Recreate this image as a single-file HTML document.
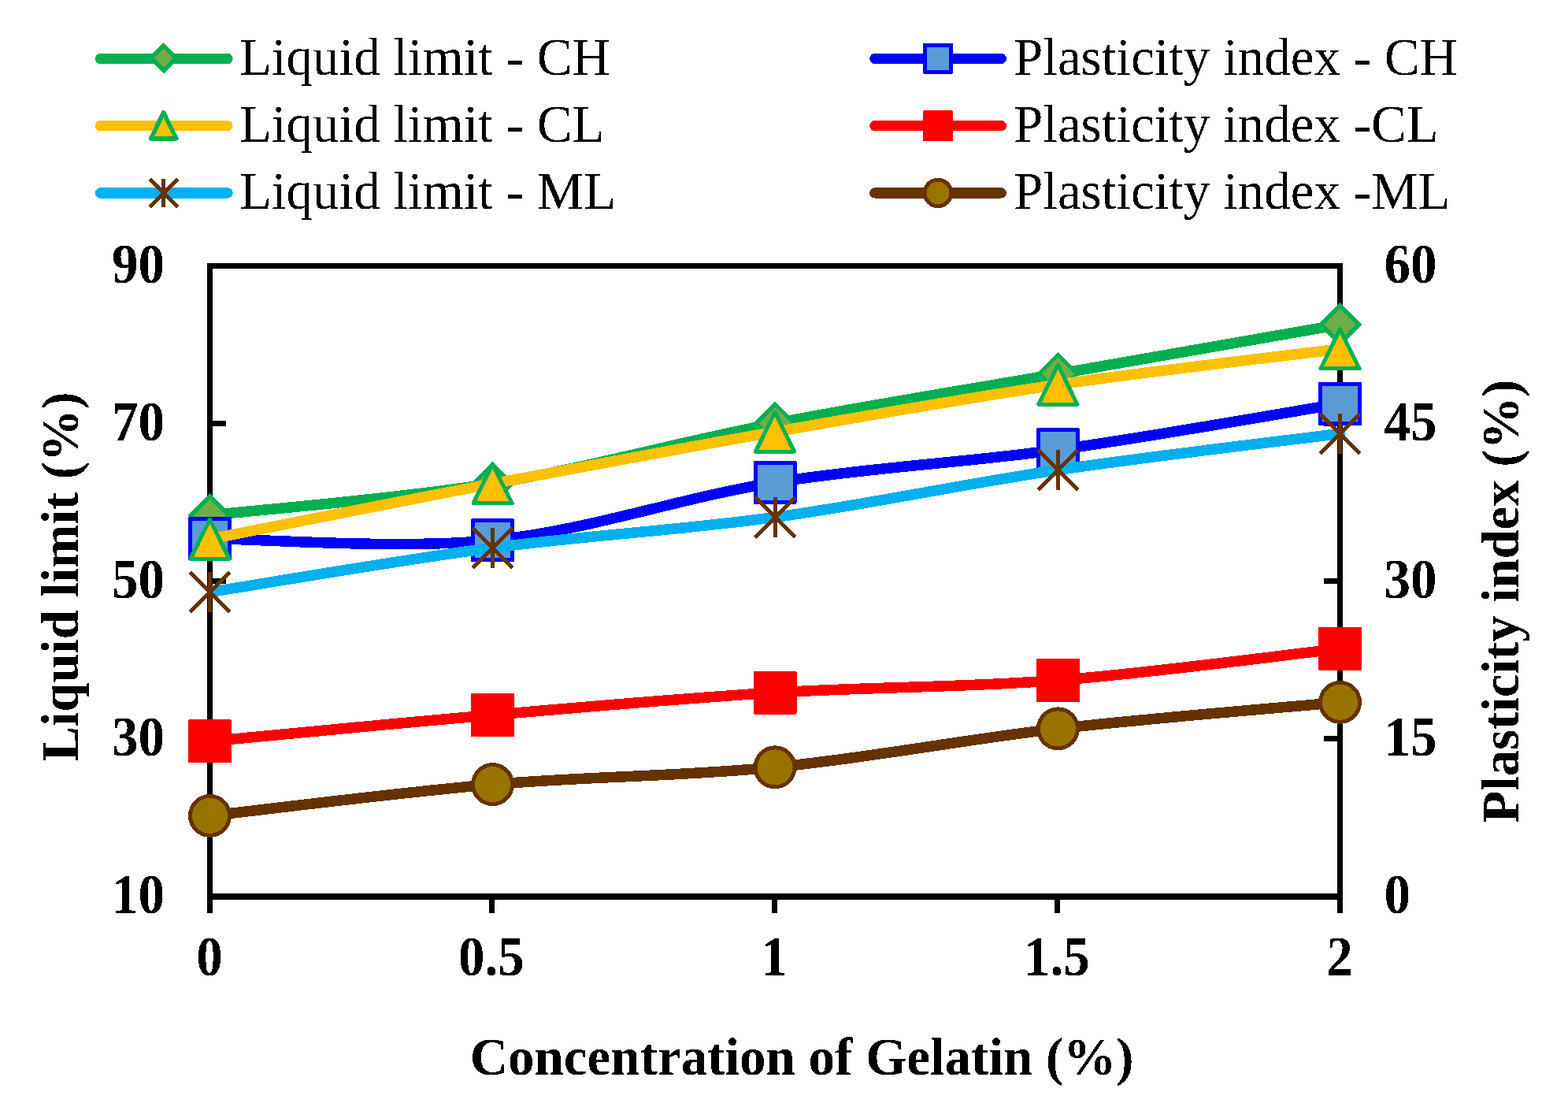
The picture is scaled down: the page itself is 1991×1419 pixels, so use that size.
<!DOCTYPE html>
<html><head><meta charset="utf-8"><title>Liquid limit and plasticity index vs gelatin concentration</title>
<style>
html,body{margin:0;padding:0;background:#fff;}
body{width:1991px;height:1419px;overflow:hidden;}
svg{display:block;}
text{font-family:"Liberation Serif","Times New Roman",serif;font-size:67px;fill:#000;}
</style></head>
<body>
<svg width="1991" height="1419" viewBox="0 0 1991 1419" shape-rendering="crispEdges">
<defs><filter id="bin" x="0" y="0" width="100%" height="100%" filterUnits="userSpaceOnUse"><feComponentTransfer><feFuncA type="discrete" tableValues="0 1"/></feComponentTransfer></filter><clipPath id="pc"><rect x="268" y="300" width="1452" height="900"/></clipPath></defs>
<rect x="0" y="0" width="1991" height="1419" fill="#fff"/>
<rect x="266.5" y="337.5" width="1435.0" height="800.0" fill="none" stroke="#000" stroke-width="7"/>
<line x1="266.5" y1="537.5" x2="287.0" y2="537.5" stroke="#000" stroke-width="7"/>
<line x1="1681.0" y1="537.5" x2="1701.5" y2="537.5" stroke="#000" stroke-width="7"/>
<line x1="266.5" y1="737.5" x2="287.0" y2="737.5" stroke="#000" stroke-width="7"/>
<line x1="1681.0" y1="737.5" x2="1701.5" y2="737.5" stroke="#000" stroke-width="7"/>
<line x1="266.5" y1="937.5" x2="287.0" y2="937.5" stroke="#000" stroke-width="7"/>
<line x1="1681.0" y1="937.5" x2="1701.5" y2="937.5" stroke="#000" stroke-width="7"/>
<line x1="263.0" y1="1138" x2="1705.0" y2="1138" stroke="#000" stroke-width="8"/>
<line x1="266.5" y1="1137.5" x2="266.5" y2="1159.0" stroke="#000" stroke-width="7"/>
<line x1="624.45" y1="1137.5" x2="624.45" y2="1159.0" stroke="#000" stroke-width="7"/>
<line x1="983.5" y1="1137.5" x2="983.5" y2="1159.0" stroke="#000" stroke-width="7"/>
<line x1="1342.45" y1="1137.5" x2="1342.45" y2="1159.0" stroke="#000" stroke-width="7"/>
<line x1="1701.5" y1="1137.5" x2="1701.5" y2="1159.0" stroke="#000" stroke-width="7"/>
<path d="M266.50,654.00 C326.34,647.28 505.96,633.13 625.55,613.70 C745.14,594.27 864.41,560.60 984.05,537.40 C1103.69,514.20 1223.83,495.40 1343.40,474.50 C1462.98,453.60 1641.82,422.42 1701.50,412.00" fill="none" stroke="#00B050" stroke-width="13.5" stroke-linejoin="round" stroke-linecap="round" clip-path="url(#pc)"/>
<polygon points="266.5,626.20 294.30,654 266.5,681.80 238.70,654" fill="#00B050"/><polygon points="266.5,633.60 286.90,654 266.5,674.40 246.10,654" fill="#70AD47"/>
<polygon points="625.55,585.90 653.35,613.7 625.55,641.50 597.75,613.7" fill="#00B050"/><polygon points="625.55,593.30 645.95,613.7 625.55,634.10 605.15,613.7" fill="#70AD47"/>
<polygon points="984.05,509.60 1011.85,537.4 984.05,565.20 956.25,537.4" fill="#00B050"/><polygon points="984.05,517.00 1004.45,537.4 984.05,557.80 963.65,537.4" fill="#70AD47"/>
<polygon points="1343.4,446.70 1371.20,474.5 1343.4,502.30 1315.60,474.5" fill="#00B050"/><polygon points="1343.4,454.10 1363.80,474.5 1343.4,494.90 1323.00,474.5" fill="#70AD47"/>
<polygon points="1701.5,384.20 1729.30,412 1701.5,439.80 1673.70,412" fill="#00B050"/><polygon points="1701.5,391.60 1721.90,412 1701.5,432.40 1681.10,412" fill="#70AD47"/>
<path d="M266.50,683.60 C326.34,683.95 505.96,697.58 625.55,685.70 C745.14,673.82 864.41,631.45 984.05,612.30 C1103.69,593.15 1223.83,587.45 1343.40,570.80 C1462.98,554.15 1641.82,522.13 1701.50,512.40" fill="none" stroke="#0000FF" stroke-width="13.5" stroke-linejoin="round" stroke-linecap="round" clip-path="url(#pc)"/>
<rect x="239.00" y="656.10" width="55.00" height="55.00" fill="#0000FF" rx="1.5"/><rect x="244.00" y="661.10" width="45.00" height="45.00" fill="#5B9BD5"/>
<rect x="598.05" y="658.20" width="55.00" height="55.00" fill="#0000FF" rx="1.5"/><rect x="603.05" y="663.20" width="45.00" height="45.00" fill="#5B9BD5"/>
<rect x="956.55" y="584.80" width="55.00" height="55.00" fill="#0000FF" rx="1.5"/><rect x="961.55" y="589.80" width="45.00" height="45.00" fill="#5B9BD5"/>
<rect x="1315.90" y="543.30" width="55.00" height="55.00" fill="#0000FF" rx="1.5"/><rect x="1320.90" y="548.30" width="45.00" height="45.00" fill="#5B9BD5"/>
<rect x="1674.00" y="484.90" width="55.00" height="55.00" fill="#0000FF" rx="1.5"/><rect x="1679.00" y="489.90" width="45.00" height="45.00" fill="#5B9BD5"/>
<path d="M266.50,684.20 C326.34,672.48 505.96,636.58 625.55,613.90 C745.14,591.22 864.41,569.05 984.05,548.10 C1103.69,527.15 1223.83,505.73 1343.40,488.20 C1462.98,470.67 1641.82,450.45 1701.50,442.90" fill="none" stroke="#FFC000" stroke-width="13.5" stroke-linejoin="round" stroke-linecap="round" clip-path="url(#pc)"/>
<polygon points="266.50,659.20 291.00,709.20 242.00,709.20" fill="#FFC000" stroke="#00B050" stroke-width="5.1" stroke-linejoin="round"/>
<polygon points="625.55,588.90 650.05,638.90 601.05,638.90" fill="#FFC000" stroke="#00B050" stroke-width="5.1" stroke-linejoin="round"/>
<polygon points="984.05,523.10 1008.55,573.10 959.55,573.10" fill="#FFC000" stroke="#00B050" stroke-width="5.1" stroke-linejoin="round"/>
<polygon points="1343.40,463.20 1367.90,513.20 1318.90,513.20" fill="#FFC000" stroke="#00B050" stroke-width="5.1" stroke-linejoin="round"/>
<polygon points="1701.50,417.90 1726.00,467.90 1677.00,467.90" fill="#FFC000" stroke="#00B050" stroke-width="5.1" stroke-linejoin="round"/>
<path d="M266.50,940.80 C326.34,935.23 505.96,917.68 625.55,907.40 C745.14,897.12 864.41,886.43 984.05,879.10 C1103.69,871.77 1223.83,872.70 1343.40,863.40 C1462.98,854.10 1641.82,829.98 1701.50,823.30" fill="none" stroke="#FF0000" stroke-width="13.5" stroke-linejoin="round" stroke-linecap="round" clip-path="url(#pc)"/>
<rect x="239.00" y="913.30" width="55.00" height="55.00" fill="#FF0000" rx="1.5"/>
<rect x="598.05" y="879.90" width="55.00" height="55.00" fill="#FF0000" rx="1.5"/>
<rect x="956.55" y="851.60" width="55.00" height="55.00" fill="#FF0000" rx="1.5"/>
<rect x="1315.90" y="835.90" width="55.00" height="55.00" fill="#FF0000" rx="1.5"/>
<rect x="1674.00" y="795.80" width="55.00" height="55.00" fill="#FF0000" rx="1.5"/>
<path d="M266.50,751.50 C326.34,742.13 505.96,711.13 625.55,695.30 C745.14,679.47 864.41,672.97 984.05,656.50 C1103.69,640.03 1223.83,614.18 1343.40,596.50 C1462.98,578.82 1641.82,558.08 1701.50,550.40" fill="none" stroke="#00B0F0" stroke-width="13.5" stroke-linejoin="round" stroke-linecap="round" clip-path="url(#pc)"/>
<g stroke="#663300" stroke-width="5" stroke-linecap="butt"><line x1="266.5" y1="726.1" x2="266.5" y2="776.9"/><line x1="241.1" y1="726.1" x2="291.9" y2="776.9"/><line x1="291.9" y1="726.1" x2="241.1" y2="776.9"/></g>
<g stroke="#663300" stroke-width="5" stroke-linecap="butt"><line x1="625.55" y1="669.9" x2="625.55" y2="720.6999999999999"/><line x1="600.15" y1="669.9" x2="650.9499999999999" y2="720.6999999999999"/><line x1="650.9499999999999" y1="669.9" x2="600.15" y2="720.6999999999999"/></g>
<g stroke="#663300" stroke-width="5" stroke-linecap="butt"><line x1="984.05" y1="631.1" x2="984.05" y2="681.9"/><line x1="958.65" y1="631.1" x2="1009.4499999999999" y2="681.9"/><line x1="1009.4499999999999" y1="631.1" x2="958.65" y2="681.9"/></g>
<g stroke="#663300" stroke-width="5" stroke-linecap="butt"><line x1="1343.4" y1="571.1" x2="1343.4" y2="621.9"/><line x1="1318.0" y1="571.1" x2="1368.8000000000002" y2="621.9"/><line x1="1368.8000000000002" y1="571.1" x2="1318.0" y2="621.9"/></g>
<g stroke="#663300" stroke-width="5" stroke-linecap="butt"><line x1="1701.5" y1="525.0" x2="1701.5" y2="575.8"/><line x1="1676.1" y1="525.0" x2="1726.9" y2="575.8"/><line x1="1726.9" y1="525.0" x2="1676.1" y2="575.8"/></g>
<path d="M266.50,1035.40 C326.34,1028.77 505.96,1005.87 625.55,995.60 C745.14,985.33 864.41,985.58 984.05,973.80 C1103.69,962.02 1223.83,938.63 1343.40,924.90 C1462.98,911.17 1641.82,896.98 1701.50,891.40" fill="none" stroke="#663300" stroke-width="13.5" stroke-linejoin="round" stroke-linecap="round" clip-path="url(#pc)"/>
<circle cx="266.5" cy="1035.4" r="27.50" fill="#663300"/><circle cx="266.5" cy="1035.4" r="22.50" fill="#997300"/>
<circle cx="625.55" cy="995.6" r="27.50" fill="#663300"/><circle cx="625.55" cy="995.6" r="22.50" fill="#997300"/>
<circle cx="984.05" cy="973.8" r="27.50" fill="#663300"/><circle cx="984.05" cy="973.8" r="22.50" fill="#997300"/>
<circle cx="1343.4" cy="924.9" r="27.50" fill="#663300"/><circle cx="1343.4" cy="924.9" r="22.50" fill="#997300"/>
<circle cx="1701.5" cy="891.4" r="27.50" fill="#663300"/><circle cx="1701.5" cy="891.4" r="22.50" fill="#997300"/>
<line x1="127.4" y1="74.45" x2="289" y2="74.45" stroke="#00B050" stroke-width="13.25" stroke-linecap="round"/>
<polygon points="207.7,53.85 227.60,73.75 207.7,93.65 187.80,73.75" fill="#00B050"/><polygon points="207.7,61.85 219.60,73.75 207.7,85.65 195.80,73.75" fill="#70AD47"/>
<line x1="127.4" y1="159.7" x2="289" y2="159.7" stroke="#FFC000" stroke-width="13.25" stroke-linecap="round"/>
<polygon points="207.70,142.85 223.80,175.85 191.60,175.85" fill="#FFC000" stroke="#00B050" stroke-width="5.5" stroke-linejoin="round"/>
<line x1="127.4" y1="244.9" x2="289" y2="244.9" stroke="#00B0F0" stroke-width="13.25" stroke-linecap="round"/>
<g stroke="#663300" stroke-width="5" stroke-linecap="butt"><line x1="207.7" y1="227.12" x2="207.7" y2="262.68"/><line x1="189.92" y1="227.12" x2="225.48" y2="262.68"/><line x1="225.48" y1="227.12" x2="189.92" y2="262.68"/></g>
<line x1="1110.8" y1="74.45" x2="1271.3" y2="74.45" stroke="#0000FF" stroke-width="13.25" stroke-linecap="round"/>
<rect x="1171.75" y="55.20" width="38.50" height="38.50" fill="#0000FF" rx="1.5"/><rect x="1176.75" y="60.20" width="28.50" height="28.50" fill="#5B9BD5"/>
<line x1="1110.8" y1="159.7" x2="1271.3" y2="159.7" stroke="#FF0000" stroke-width="13.25" stroke-linecap="round"/>
<rect x="1171.75" y="140.45" width="38.50" height="38.50" fill="#FF0000" rx="1.5"/>
<line x1="1110.8" y1="244.9" x2="1271.3" y2="244.9" stroke="#663300" stroke-width="13.25" stroke-linecap="round"/>
<circle cx="1191" cy="244.9" r="19.25" fill="#663300"/><circle cx="1191" cy="244.9" r="14.25" fill="#997300"/>
<g filter="url(#bin)">
<text transform="translate(209,359.0) scale(1,1.07)" text-anchor="end" font-weight="bold" >90</text>
<text transform="translate(209,559.0) scale(1,1.07)" text-anchor="end" font-weight="bold" >70</text>
<text transform="translate(209,759.0) scale(1,1.07)" text-anchor="end" font-weight="bold" >50</text>
<text transform="translate(209,959.0) scale(1,1.07)" text-anchor="end" font-weight="bold" >30</text>
<text transform="translate(209,1159.0) scale(1,1.07)" text-anchor="end" font-weight="bold" >10</text>
<text transform="translate(1757.5,359.0) scale(1,1.07)" text-anchor="start" font-weight="bold" >60</text>
<text transform="translate(1757.5,559.0) scale(1,1.07)" text-anchor="start" font-weight="bold" >45</text>
<text transform="translate(1757.5,759.0) scale(1,1.07)" text-anchor="start" font-weight="bold" >30</text>
<text transform="translate(1757.5,959.0) scale(1,1.07)" text-anchor="start" font-weight="bold" >15</text>
<text transform="translate(1757.5,1159.0) scale(1,1.07)" text-anchor="start" font-weight="bold" >0</text>
<text transform="translate(265.9,1238) scale(1,1.07)" text-anchor="middle" font-weight="bold" >0</text>
<text transform="translate(623.85,1238) scale(1,1.07)" text-anchor="middle" font-weight="bold" >0.5</text>
<text transform="translate(982.9,1238) scale(1,1.07)" text-anchor="middle" font-weight="bold" >1</text>
<text transform="translate(1341.8500000000001,1238) scale(1,1.07)" text-anchor="middle" font-weight="bold" >1.5</text>
<text transform="translate(1700.9,1238) scale(1,1.07)" text-anchor="middle" font-weight="bold" >2</text>
<text x="1018.2" y="1364" text-anchor="middle" font-weight="bold" >Concentration of Gelatin (%)</text>
<text transform="translate(99,732) rotate(-90) scale(0.992,1)" text-anchor="middle" font-weight="bold">Liquid limit (%)</text>
<text transform="translate(1928,763) rotate(-90) scale(0.995,1)" text-anchor="middle" font-weight="bold">Plasticity index (%)</text>
<text x="304" y="94.95" text-anchor="start" font-weight="normal" >Liquid limit - CH</text>
<text x="304" y="180.2" text-anchor="start" font-weight="normal" >Liquid limit - CL</text>
<text x="304" y="265.4" text-anchor="start" font-weight="normal" >Liquid limit - ML</text>
<text x="1287" y="94.95" text-anchor="start" font-weight="normal" >Plasticity index - CH</text>
<text x="1287" y="180.2" text-anchor="start" font-weight="normal" >Plasticity index -CL</text>
<text x="1287" y="265.4" text-anchor="start" font-weight="normal" >Plasticity index -ML</text>
</g>
</svg>
</body></html>
